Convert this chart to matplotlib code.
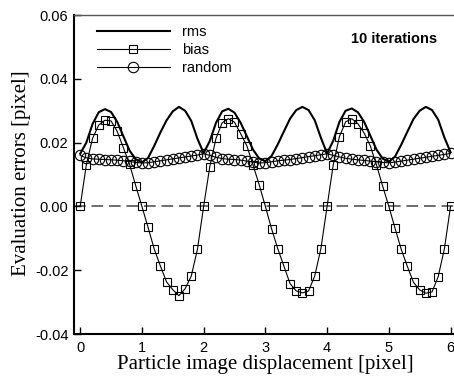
import matplotlib
matplotlib.use("Agg")
import matplotlib.pyplot as plt
import numpy as np

# displacement grid [pixel]
x = np.linspace(0, 6, 61)

bias = [0.0, 0.0131, 0.0213, 0.0255, 0.0270, 0.0268, 0.0235, 0.0184, 0.0132, 0.0065,
        0.0, -0.0066, -0.0134, -0.0187, -0.0237, -0.0261, -0.0280, -0.0258, -0.0218, -0.0134,
        0.0, 0.0125, 0.0213, 0.0262, 0.0275, 0.0264, 0.0228, 0.0190, 0.0130, 0.0068,
        0.0, -0.0070, -0.0132, -0.0187, -0.0242, -0.0265, -0.0271, -0.0265, -0.0218, -0.0132,
        0.0, 0.0131, 0.0219, 0.0265, 0.0275, 0.0259, 0.0230, 0.0190, 0.0130, 0.0064,
        0.0, -0.0068, -0.0134, -0.0188, -0.0238, -0.0262, -0.0272, -0.0268, -0.0220, -0.0133,
        0.0]

random = [0.0160, 0.0152, 0.0149, 0.0148, 0.0147, 0.0146, 0.0145, 0.0143, 0.0141, 0.0138,
          0.0136, 0.0137, 0.0140, 0.0143, 0.0146, 0.0149, 0.0152, 0.0155, 0.0158, 0.0161,
          0.0165, 0.0160, 0.0154, 0.0150, 0.0148, 0.0147, 0.0145, 0.0142, 0.0139, 0.0136,
          0.0137, 0.0140, 0.0143, 0.0145, 0.0147, 0.0150, 0.0153, 0.0156, 0.0159, 0.0162,
          0.0165, 0.0160, 0.0155, 0.0151, 0.0148, 0.0146, 0.0144, 0.0142, 0.0140, 0.0138,
          0.0137, 0.0139, 0.0142, 0.0145, 0.0148, 0.0151, 0.0154, 0.0157, 0.0160, 0.0163,
          0.0166]

rms = [0.0165, 0.0200, 0.0258, 0.0295, 0.0305, 0.0296, 0.0265, 0.0220, 0.0175, 0.0148,
       0.0138, 0.0152, 0.0190, 0.0232, 0.0270, 0.0298, 0.0312, 0.0300, 0.0268, 0.0212,
       0.0167, 0.0205, 0.0262, 0.0298, 0.0306, 0.0294, 0.0262, 0.0220, 0.0178, 0.0150,
       0.0142, 0.0158, 0.0194, 0.0235, 0.0275, 0.0302, 0.0312, 0.0302, 0.0270, 0.0215,
       0.0166, 0.0206, 0.0265, 0.0300, 0.0307, 0.0295, 0.0265, 0.0222, 0.0178, 0.0150,
       0.0140, 0.0156, 0.0193, 0.0234, 0.0274, 0.0300, 0.0312, 0.0302, 0.0272, 0.0216,
       0.0170]

xticks = [0, 1, 2, 3, 4, 5, 6]
yticks = [-0.04, -0.02, 0.00, 0.02, 0.04, 0.06]

sans = 'Liberation Sans'
serif = 'Liberation Serif'

fig = plt.figure(figsize=(4.54, 3.8), dpi=100)
# axes runs a bit past the right edge of the figure, like the original crop
ax = fig.add_axes([0.163, 0.121, 0.843, 0.8395])

ax.axhline(0, color='#555555', lw=1.2, dashes=(7, 3.5), zorder=1)
ax.plot(x, rms, color='k', lw=1.5, label='rms', zorder=3)
ax.plot(x, bias, color='k', lw=0.8, marker='s', ms=5.8, mfc='none', mew=0.8,
        label='bias', zorder=4)
ax.plot(x, random, color='k', lw=0.8, marker='o', ms=7.5, mfc='none', mew=0.8,
        label='random', zorder=5)

ax.set_xlim(-0.1, 6.1)
ax.set_ylim(-0.04, 0.06)
ax.set_xticks(xticks)
ax.set_yticks(yticks)
ax.set_xticklabels([str(t) for t in xticks], fontfamily=sans, fontsize=10.5)
ax.set_yticklabels(['%.2f' % t for t in yticks], fontfamily=sans, fontsize=10.5)
ax.tick_params(direction='in', length=5, width=1, pad=5)
ax.tick_params(axis='y', pad=4)

for s in ['left', 'bottom']:
    ax.spines[s].set_linewidth(1.5)
ax.spines['top'].set_color('#555555')
ax.spines['top'].set_linewidth(1.0)
ax.spines['right'].set_visible(False)

leg = ax.legend(loc='upper left', bbox_to_anchor=(0.060, 0.968), frameon=False,
                borderpad=0, borderaxespad=0, handlelength=5.0, handletextpad=0.8,
                labelspacing=0.28, prop={'family': sans, 'size': 10.5})

ax.text(0.950, 0.925, '10 iterations', transform=ax.transAxes, ha='right',
        va='center', fontfamily=sans, fontsize=10.5, fontweight='bold')

fig.text(265 / 454, 1 - 365 / 380, 'Particle image displacement [pixel]',
         ha='center', va='center', fontfamily=serif, fontsize=15)
fig.text(22 / 454, 1 - 173 / 380, 'Evaluation errors [pixel]', rotation=90,
         ha='center', va='center', fontfamily=serif, fontsize=15)

fig.savefig('out.png', dpi=100)
